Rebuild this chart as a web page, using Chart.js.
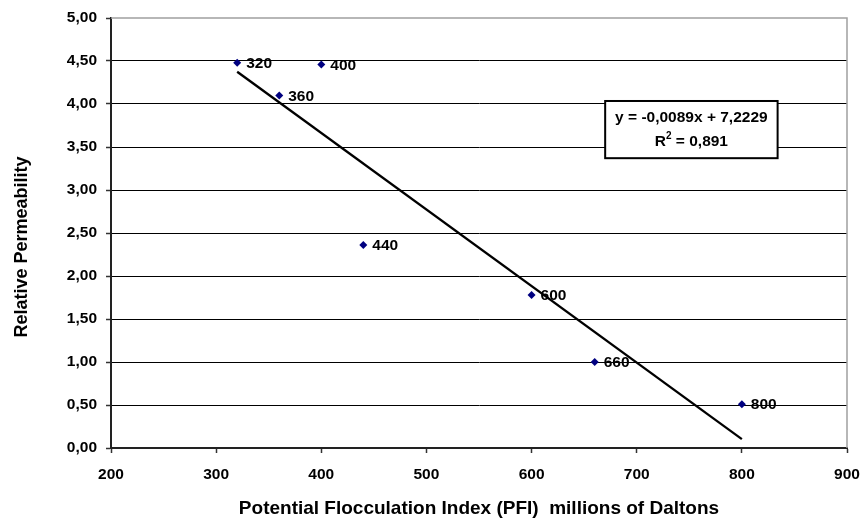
<!DOCTYPE html>
<html>
<head>
<meta charset="utf-8">
<script src="https://cdn.jsdelivr.net/npm/chart.js@4/dist/chart.umd.min.js"></script>
<style>
  html, body { margin: 0; padding: 0; background: #ffffff; }
  #wrap { width: 861px; height: 518px; }
</style>
</head>
<body>
<div id="wrap"><canvas id="c" width="861" height="518"></canvas></div>
<script>
// ---- data ----
const pfiValues = [320, 360, 400, 440, 600, 660, 800];
const permeability = [4.48, 4.10, 4.46, 2.36, 1.78, 1.00, 0.51];
const pointLabels = ['320', '360', '400', '440', '600', '660', '800'];
const trendX = [320, 800];
const trendY = [4.375, 0.103];
const equationLines = ['y = -0,0089x + 7,2229', 'R2 = 0,891'];
const xTitle = 'Potential Flocculation Index (PFI)  millions of Daltons';
const yTitle = 'Relative Permeability';

const FONT = '"Liberation Sans", Arial, sans-serif';

const pointsData = pfiValues.map((x, i) => ({ x: x, y: permeability[i] }));
const trendData = trendX.map((x, i) => ({ x: x, y: trendY[i] }));

const decorPlugin = {
  id: 'decor',
  beforeDatasetsDraw(chart) {
    const { ctx, chartArea } = chart;
    ctx.save();
    ctx.strokeStyle = '#a0a0a0';
    ctx.lineWidth = 1.5;
    ctx.beginPath();
    ctx.moveTo(chartArea.left, chartArea.top);
    ctx.lineTo(chartArea.right, chartArea.top);
    ctx.lineTo(chartArea.right, chartArea.bottom);
    ctx.stroke();
    ctx.restore();
  },
  afterDatasetsDraw(chart) {
    const { ctx } = chart;
    const xs = chart.scales.x, ys = chart.scales.y;
    ctx.save();
    // point labels
    ctx.font = 'bold 15.5px ' + FONT;
    ctx.fillStyle = '#000';
    ctx.textAlign = 'left';
    ctx.textBaseline = 'middle';
    const meta = chart.getDatasetMeta(0);
    meta.data.forEach((el, i) => {
      ctx.fillText(pointLabels[i], el.x + 9, el.y + 1);
    });
    // equation box
    const bx1 = xs.getPixelForValue(670), bx2 = xs.getPixelForValue(834);
    const by1 = ys.getPixelForValue(4.035), by2 = ys.getPixelForValue(3.37);
    ctx.fillStyle = '#fff';
    ctx.fillRect(bx1, by1, bx2 - bx1, by2 - by1);
    ctx.strokeStyle = '#000';
    ctx.lineWidth = 2;
    ctx.strokeRect(bx1, by1, bx2 - bx1, by2 - by1);
    const cx = (bx1 + bx2) / 2;
    ctx.fillStyle = '#000';
    ctx.textAlign = 'center';
    ctx.font = 'bold 15.5px ' + FONT;
    ctx.fillText(equationLines[0], cx, by1 + 17);
    // R² line with superscript
    const l2 = equationLines[1];
    const base = l2.charAt(0), sup = l2.charAt(1), rest = l2.slice(2);
    ctx.font = 'bold 15.5px ' + FONT;
    const wBase = ctx.measureText(base).width;
    const wRest = ctx.measureText(rest).width;
    ctx.font = 'bold 10px ' + FONT;
    const wSup = ctx.measureText(sup).width;
    const total = wBase + wSup + wRest;
    let sx = cx - total / 2;
    const ly = by1 + 41;
    ctx.textAlign = 'left';
    ctx.font = 'bold 15.5px ' + FONT;
    ctx.fillText(base, sx, ly);
    sx += wBase;
    ctx.font = 'bold 10px ' + FONT;
    ctx.fillText(sup, sx, ly - 6);
    sx += wSup;
    ctx.font = 'bold 15.5px ' + FONT;
    ctx.fillText(rest, sx, ly);
    // y title
    ctx.translate(22, 247);
    ctx.rotate(-Math.PI / 2);
    ctx.textAlign = 'center';
    ctx.textBaseline = 'middle';
    ctx.font = 'bold 18px ' + FONT;
    ctx.fillText(yTitle, 0, 0);
    ctx.restore();
  }
};

new Chart(document.getElementById('c'), {
  type: 'scatter',
  data: {
    datasets: [
      {
        label: 'Relative Permeability',
        data: pointsData,
        pointStyle: 'rectRot',
        pointRadius: 4,
        pointHoverRadius: 4,
        backgroundColor: '#000080',
        borderColor: '#000080',
        borderWidth: 0,
        order: 1
      },
      {
        label: 'Trend',
        type: 'line',
        data: trendData,
        borderColor: '#000',
        borderWidth: 2.3,
        pointRadius: 0,
        fill: false,
        order: 2
      }
    ]
  },
  options: {
    responsive: false,
    animation: false,
    events: [],
    layout: { padding: { left: 0, right: 14, top: 18, bottom: 0 } },
    plugins: { legend: { display: false }, tooltip: { enabled: false } },
    scales: {
      x: {
        type: 'linear',
        min: 200, max: 900,
        ticks: {
          stepSize: 100,
          color: '#000',
          font: { family: FONT, size: 15.5, weight: 'bold' },
          padding: 12,
          maxRotation: 0
        },
        grid: {
          display: true,
          drawOnChartArea: false,
          drawTicks: true,
          tickLength: 5,
          tickColor: '#333',
          tickWidth: 1.5
        },
        border: { color: '#222', width: 2 },
        title: {
          display: true,
          text: xTitle,
          color: '#000',
          font: { family: FONT, size: 19, weight: 'bold', lineHeight: 1 },
          padding: 0
        },
        afterFit(scale) {
          scale.height = 70;
          scale.paddingRight = 0;
          scale.paddingLeft = 0;
        }
      },
      y: {
        type: 'linear',
        min: 0, max: 5,
        ticks: {
          stepSize: 0.5,
          color: '#000',
          font: { family: FONT, size: 15.5, weight: 'bold' },
          padding: 9,
          callback: (v) => Number(v).toFixed(2).replace('.', ',')
        },
        grid: {
          color: (c) => (c.tick && c.tick.value === 5 ? 'rgba(0,0,0,0)' : '#000'),
          lineWidth: 1,
          drawTicks: true,
          tickLength: 5,
          tickColor: '#333',
          tickWidth: 1.5
        },
        border: { color: '#222', width: 2 },
        afterFit(scale) {
          scale.width = 111;
          scale.paddingTop = 0;
          scale.paddingBottom = 0;
        }
      }
    }
  },
  plugins: [decorPlugin]
});
</script>
</body>
</html>
